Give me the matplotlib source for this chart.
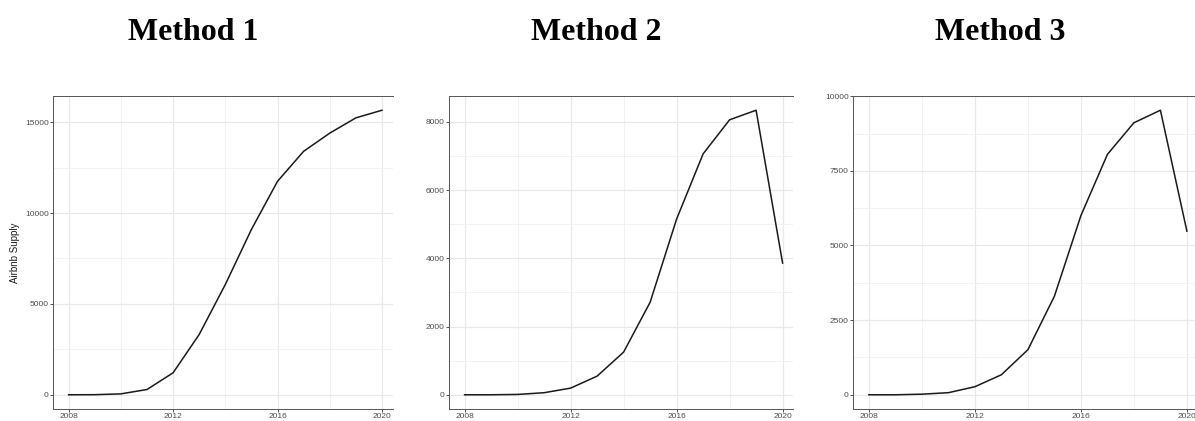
import numpy as np
import matplotlib
matplotlib.use('Agg')
import matplotlib.pyplot as plt
from matplotlib.ticker import MultipleLocator

years = list(range(2008, 2021))

method1 = [0, 5, 50, 290, 1210, 3320, 6070, 9100, 11750, 13400, 14400, 15240, 15660]
method2 = [0, 0, 10, 60, 195, 546, 1250, 2710, 5150, 7060, 8060, 8340, 3860]
method3 = [0, 0, 20, 70, 270, 670, 1510, 3300, 6000, 8050, 9110, 9530, 5480]

titles = ['Method 1', 'Method 2', 'Method 3']
series = [method1, method2, method3]
y_steps = [5000, 2000, 2500]

# panel boxes in pixels: left, right edge (panels are cropped on the right)
W, H = 1195, 421
boxes = [(53, 393), (448.7, 793), (853, 1195)]
title_x = [193, 596, 1000]
top_px, bot_px = 96, 409

fig = plt.figure(figsize=(W / 100, H / 100), dpi=100)

for i in range(3):
    l, r = boxes[i]
    ax = fig.add_axes([l / W, (H - bot_px) / H, (r - l) / W, (bot_px - top_px) / H])
    y = series[i]
    ax.plot(years, y, color='#1a1a1a', lw=1.1)

    # ggplot-style 5% expansion, right side cropped
    x0 = 2008 - 0.6
    px_per_year = 26.5 if i else 26.11
    ax.set_xlim(x0, x0 + (r - l) / px_per_year)
    rng = max(y) - min(y)
    ax.set_ylim(min(y) - 0.05 * rng, max(y) + 0.05 * rng)

    ax.set_xticks([2008, 2012, 2016, 2020])
    ax.xaxis.set_minor_locator(MultipleLocator(2))
    ax.yaxis.set_major_locator(MultipleLocator(y_steps[i]))
    ax.yaxis.set_minor_locator(MultipleLocator(y_steps[i] / 2))

    ax.grid(which='major', color='#e8e8e8', lw=0.9)
    ax.grid(which='minor', color='#f0f0f0', lw=0.6)
    ax.set_axisbelow(True)
    ax.tick_params(which='minor', length=0)
    ax.tick_params(which='major', length=2, width=0.6, color='#333333',
                   labelsize=6, labelcolor='#4d4d4d', pad=1)
    for lab in ax.get_xticklabels() + ax.get_yticklabels():
        lab.set_family('Liberation Sans')

    for side in ['left', 'top', 'bottom']:
        ax.spines[side].set_color('#555555')
        ax.spines[side].set_linewidth(0.7)
    ax.spines['right'].set_visible(False)

    if i == 0:
        ax.set_ylabel('Airbnb Supply', fontsize=7, family='Liberation Sans',
                      color='#1a1a1a', labelpad=4)

    fig.text(title_x[i] / W, 1 - 40 / H, titles[i], ha='center', va='baseline',
             fontsize=23, fontweight='bold', family='Liberation Serif')

fig.savefig('out.png', dpi=100)
